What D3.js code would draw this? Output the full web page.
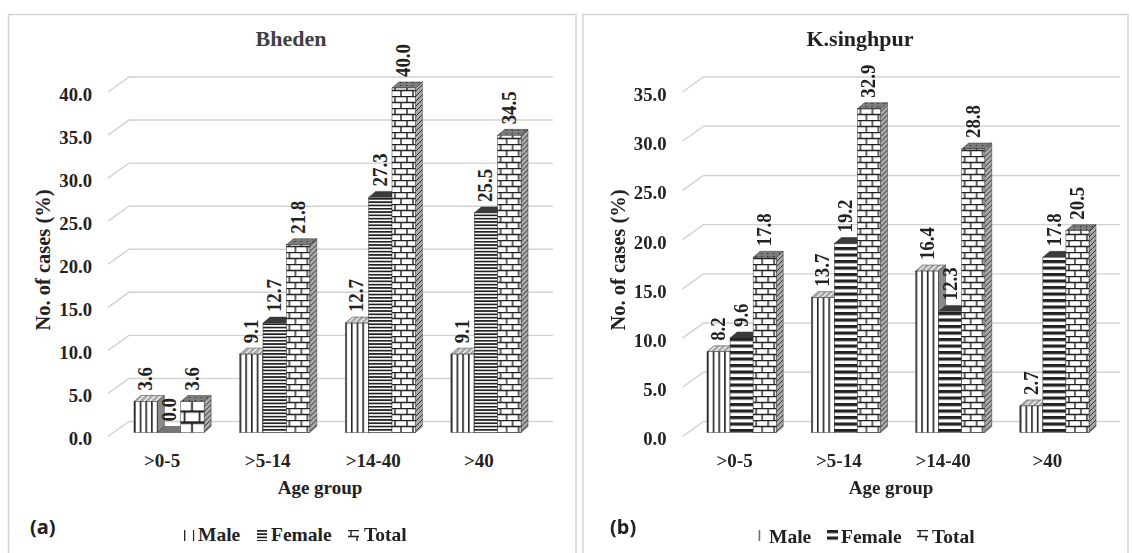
<!DOCTYPE html>
<html>
<head>
<meta charset="utf-8">
<script src="https://cdnjs.cloudflare.com/ajax/libs/d3/7.8.5/d3.min.js"></script>
<style>
  html, body { margin: 0; padding: 0; background: #fff; }
  svg { display: block; filter: blur(0.35px); }
  text { font-family: "Liberation Serif", serif; font-weight: bold; fill: #222; }
</style>
</head>
<body>
<div id="chart"></div>
<script>
var ageGroups = [">0-5", ">5-14", ">14-40", ">40"];
var seriesNames = ["Male", "Female", "Total"];

var bhedenMale = [3.6, 9.1, 12.7, 9.1];
var bhedenFemale = [0.0, 12.7, 27.3, 25.5];
var bhedenTotal = [3.6, 21.8, 40.0, 34.5];

var singhpurMale = [8.2, 13.7, 16.4, 2.7];
var singhpurFemale = [9.6, 19.2, 12.3, 17.8];
var singhpurTotal = [17.8, 32.9, 28.8, 20.5];

var bhedenTicks = [0, 5, 10, 15, 20, 25, 30, 35, 40];
var singhpurTicks = [0, 5, 10, 15, 20, 25, 30, 35];

var W = 1132, H = 553;
var depthX = 7, depthY = 6;   // bar box depth
var wallX = 21, wallY = 15;   // slanted part of the gridlines

var svg = d3.select("#chart").append("svg").attr("width", W).attr("height", H);
var defs = svg.append("defs");

function tile(id, w, h, transform) {
  var p = defs.append("pattern").attr("id", id)
    .attr("patternUnits", "userSpaceOnUse")
    .attr("width", w).attr("height", h);
  if (transform) p.attr("patternTransform", transform);
  p.append("rect").attr("width", w).attr("height", h).attr("fill", "#fff");
  return p;
}
function stripeV(id, period, thick) {
  tile(id, period, 10).append("rect")
    .attr("width", thick).attr("height", 10).attr("fill", "#222");
}
function stripeH(id, period, thick) {
  tile(id, 10, period).append("rect")
    .attr("width", 10).attr("height", thick).attr("fill", "#222");
}
function brick(id, transform) {
  var p = tile(id, 12, 12, transform);
  p.append("path")
    .attr("d", "M0,0.5H12M0,6.5H12M3,0V6M9,6V12")
    .attr("stroke", "#222").attr("stroke-width", 1.4).attr("fill", "none");
}

stripeV("maleV", 5.7, 1.6);
stripeV("maleKeyA", 9, 1.3);
stripeV("maleKeyB", 20, 1.3);
stripeH("femaleThin", 3.3, 1.7);
stripeH("femaleThick", 6.5, 3.2);
brick("brick");
brick("brickBig", "scale(1.25,1.9)");

// side of the total bars
var hatch = tile("sideHatch", 5, 5);
hatch.select("rect").attr("fill", "#aaa");
hatch.append("path").attr("d", "M-1,6L6,-1M-1,1L1,-1M4,6L6,4")
  .attr("stroke", "#333").attr("stroke-width", 1);

// tops
var topStripe = tile("maleTop", 5.7, 6, "skewX(-45)");
topStripe.select("rect").attr("fill", "#aaa");
topStripe.append("rect").attr("width", 1.5).attr("height", 6).attr("fill", "#fff");
var topDots = tile("totalTop", 6, 3);
topDots.select("rect").attr("fill", "#7d7d7d");
topDots.append("rect").attr("x", 2).attr("y", 1).attr("width", 1.2).attr("height", 1).attr("fill", "#222");

function drawPanel(o) {
  var g = svg.append("g");

  g.append("rect").attr("x", o.frame[0]).attr("y", 14.5)
    .attr("width", o.frame[1] - o.frame[0]).attr("height", H)
    .attr("fill", "#fff").attr("stroke", "#d4d4d4").attr("stroke-width", 1.5);

  var y = d3.scaleLinear().domain([0, d3.max(o.ticks)]).range([421.5, 77]);
  var x = d3.scaleBand().domain(ageGroups).range([o.barLeft, o.barRight]).paddingInner(0.336);
  var inner = d3.scaleBand().domain(seriesNames).range([0, x.bandwidth()]);
  var base = y(0) + wallY - 4;
  var barY = function(v) { return y(v) + wallY - 4; };

  // walls
  g.append("g").selectAll("path").data(o.ticks).enter().append("path")
    .attr("d", function(t) {
      return "M" + o.floorLeft + "," + (y(t) + wallY) +
             "L" + (o.floorLeft + wallX) + "," + y(t) + "H" + o.floorRight;
    })
    .attr("fill", "none").attr("stroke", "#d2d2d2").attr("stroke-width", 1.4);

  // value axis, sits on the front edge of the floor
  var axis = g.append("g")
    .attr("transform", "translate(" + (o.floorLeft - 16) + "," + (wallY + 2.5) + ")")
    .call(d3.axisLeft(y).tickValues(o.ticks).tickSize(0).tickPadding(0)
      .tickFormat(function(d) { return d.toFixed(1); }));
  axis.select(".domain").remove();
  axis.selectAll("text").style("font-family", '"Liberation Serif", serif')
    .style("font-size", "18.7px").style("font-weight", "bold").attr("fill", "#222");

  // bars, left to right so that each one covers the side of the previous one
  ageGroups.forEach(function(group, i) {
    seriesNames.forEach(function(name) {
      var v = o.values[name][i];
      var bw = inner.bandwidth();
      var bar = g.append("g").attr("transform", "translate(" + (x(group) + inner(name)) + ",0)");
      var front = name === "Male" ? "url(#maleV)"
        : name === "Female" ? "url(#" + o.femaleFill + ")"
        : (v < 5 ? "url(#brickBig)" : "url(#brick)");
      var side = name === "Total" ? "url(#sideHatch)" : (name === "Male" ? "#8a8a8a" : "#555");
      var top = name === "Male" ? "url(#maleTop)"
        : name === "Female" ? (v === 0 ? "#777" : "#3a3a3a")
        : "url(#totalTop)";

      bar.append("path")
        .attr("d", "M" + bw + "," + base + "L" + (bw + depthX) + "," + (base - depthY) +
                   "V" + (barY(v) - depthY) + "L" + bw + "," + barY(v) + "Z")
        .attr("fill", side).attr("stroke", "#333").attr("stroke-width", 0.5);
      bar.append("path")
        .attr("d", "M0," + barY(v) + "L" + depthX + "," + (barY(v) - depthY) +
                   "H" + (bw + depthX) + "L" + bw + "," + barY(v) + "Z")
        .attr("fill", top).attr("stroke", "#333").attr("stroke-width", 0.5);
      bar.append("rect")
        .attr("x", 0).attr("y", barY(v))
        .attr("width", bw).attr("height", base - barY(v))
        .attr("fill", front).attr("stroke", "#333").attr("stroke-width", 0.5);
    });
  });

  // data labels go on top of everything
  ageGroups.forEach(function(group, i) {
    seriesNames.forEach(function(name) {
      var v = o.values[name][i];
      var cx = x(group) + inner(name) + inner.bandwidth() / 2;
      var label = v.toFixed(1);
      g.append("text")
        .attr("transform", "translate(" + (cx + 6.5) + "," + (barY(v) - depthY - 5) + ") rotate(-90)")
        .attr("font-size", 20.5)
        .attr("textLength", label.length === 4 ? 33 : 23.5)
        .attr("lengthAdjust", "spacingAndGlyphs")
        .text(label);
    });
  });

  // category labels
  g.append("g").selectAll("text").data(ageGroups).enter().append("text")
    .attr("x", function(d) { return x(d) + x.bandwidth() / 2 - 7; })
    .attr("y", 467)
    .attr("text-anchor", "middle").attr("font-size", 19)
    .text(function(d) { return d; });

  g.append("text").attr("x", o.titleX).attr("y", 46).attr("text-anchor", "middle")
    .attr("font-size", 22).style("fill", o.titleColor).text(o.title);
  g.append("text").attr("x", o.xTitleX).attr("y", 494).attr("text-anchor", "middle")
    .attr("font-size", 19).text("Age group");
  g.append("text")
    .attr("transform", "translate(" + o.yTitleX + ",260) rotate(-90)")
    .attr("text-anchor", "middle").attr("font-size", 20.5).text("No. of cases (%)");

  g.append("text").attr("x", o.panelX).attr("y", 534)
    .style("font-family", '"Noto Sans", sans-serif').attr("font-size", 20)
    .text(o.panel);

  // legend, each key in its own group so the pattern starts at the key's corner
  o.legend.forEach(function(l) {
    g.append("g").attr("transform", "translate(" + l.key + ",530)")
      .append("rect")
      .attr("width", l.size).attr("height", 11).attr("fill", l.fill);
    g.append("text").attr("x", l.text).attr("y", l.base)
      .attr("font-size", 19.5).text(l.name);
  });
}

drawPanel({
  title: "Bheden", titleX: 291, titleColor: "#404040", panel: "(a)", panelX: 30,
  frame: [8.5, 576], ticks: bhedenTicks,
  values: { Male: bhedenMale, Female: bhedenFemale, Total: bhedenTotal },
  femaleFill: "femaleThin",
  barLeft: 134, barRight: 521, floorLeft: 108, floorRight: 553,
  xTitleX: 320, yTitleX: 50,
  legend: [
    { name: "Male", key: 184, size: 10.5, fill: "url(#maleKeyA)", text: 198, base: 541 },
    { name: "Female", key: 257, size: 10, fill: "url(#femaleThin)", text: 271, base: 541 },
    { name: "Total", key: 348, size: 11, fill: "url(#brick)", text: 364, base: 541 }
  ]
});

drawPanel({
  title: "K.singhpur", titleX: 860, titleColor: "#222", panel: "(b)", panelX: 610,
  frame: [583, 1128], ticks: singhpurTicks,
  values: { Male: singhpurMale, Female: singhpurFemale, Total: singhpurTotal },
  femaleFill: "femaleThick",
  barLeft: 707, barRight: 1089, floorLeft: 682.5, floorRight: 1120,
  xTitleX: 891, yTitleX: 625,
  legend: [
    { name: "Male", key: 758.5, size: 3, fill: "url(#maleKeyB)", text: 769, base: 543 },
    { name: "Female", key: 827, size: 11, fill: "url(#femaleThick)", text: 841, base: 543 },
    { name: "Total", key: 917, size: 11, fill: "url(#brick)", text: 932, base: 543 }
  ]
});
</script>
</body>
</html>
